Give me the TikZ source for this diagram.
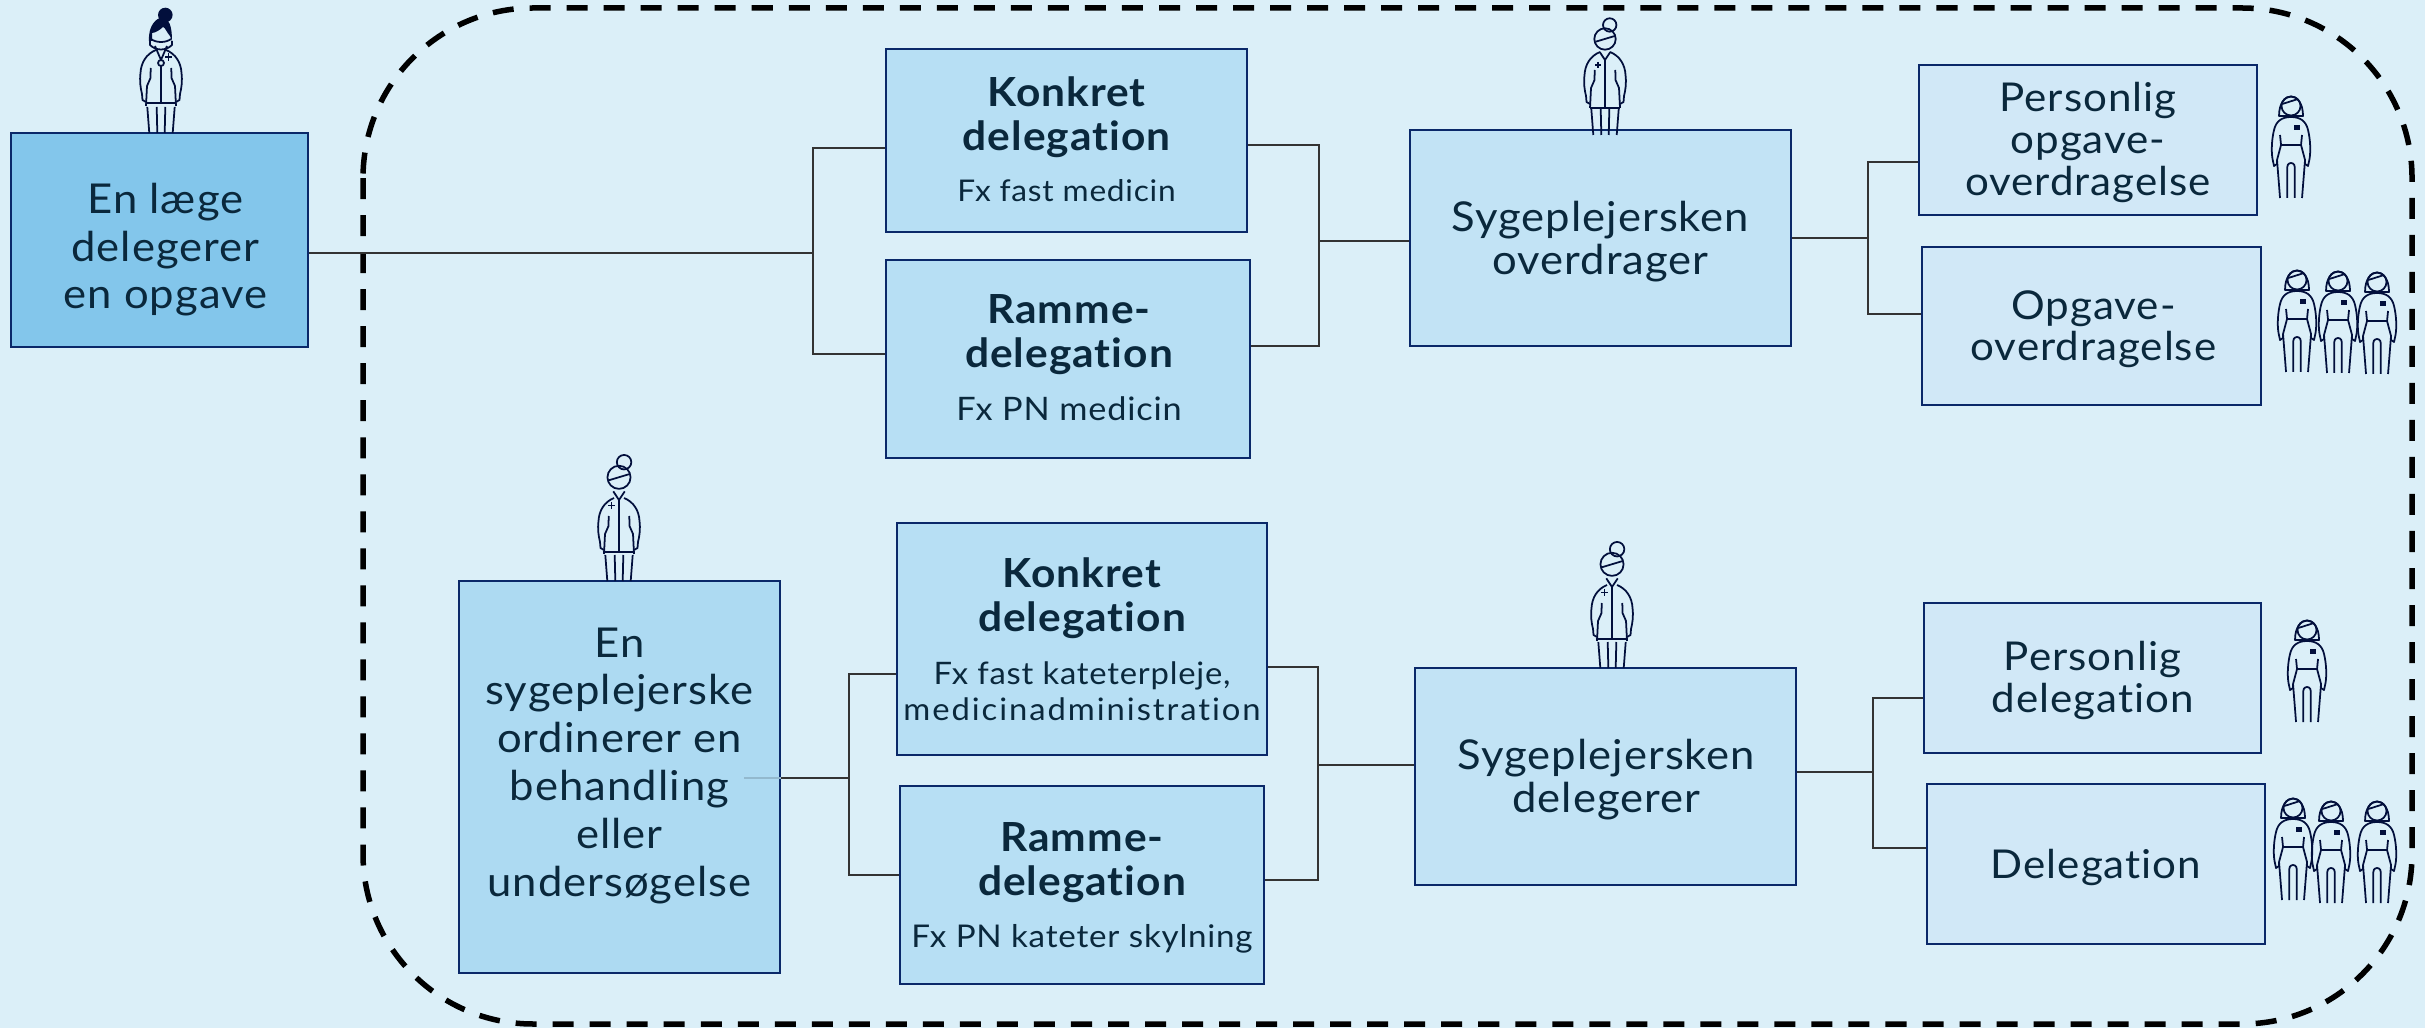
\documentclass[tikz,border=0pt]{standalone}
\usepackage{fontspec}
\setmainfont[Ligatures=NoCommon,FakeStretch=1.06,LetterSpace=2.5]{Lato}
\usepackage{tikz}
\usetikzlibrary{positioning}
\definecolor{bund}{RGB}{219,239,248}
\definecolor{kant}{RGB}{10,40,105}
\definecolor{skrift}{RGB}{10,40,60}
\definecolor{ikonfarve}{RGB}{2,15,60}
\definecolor{laegeblaa}{RGB}{131,198,235}
\definecolor{ordblaa}{RGB}{173,218,242}
\definecolor{deleblaa}{RGB}{183,223,244}
\definecolor{sygblaa}{RGB}{194,227,245}
\definecolor{persblaa}{RGB}{209,232,247}
\tikzstyle{boks}=[draw=kant,line width=0.7pt,inner sep=0pt,text=skrift]
\tikzstyle{stor}=[font=\fontsize{11.7}{13.6}\selectfont]
\tikzstyle{syg}=[font=\fontsize{11.7}{12.3}\selectfont]
\tikzstyle{mellem}=[font=\fontsize{11.3}{11.9}\selectfont]
\tikzstyle{linje}=[draw=black!80,line width=0.35pt]
\tikzstyle{svag}=[draw=ordblaa!85!black,line width=0.35pt]
\tikzstyle{ikon}=[draw=ikonfarve,line width=0.5pt,line join=round]
\newcommand{\lille}[1]{\fontsize{#1}{10.2}\selectfont\mdseries}
\newcommand{\fed}{\fontsize{11.4}{12.5}\selectfont\bfseries}
\newlength{\enhed}
\setlength{\enhed}{0.01cm}
% text in a box, moved #1 right and #2 up
\newcommand{\flyt}[3]{\hspace*{#1\enhed}\hspace*{#1\enhed}\makebox[0pt]{\raisebox{\dimexpr #2\enhed-0.25em\relax}[0pt][0pt]{\parbox[c]{4cm}{\centering #3\par}}}}
\tikzset{
  kittelben/.pic={
    \draw[ikon] (-5,-83) .. controls (-15,-79) and (-20,-70) .. (-20.5,-60)
      .. controls (-21.5,-52) and (-20.5,-45) .. (-19,-39) -- (-18.5,-33) -- (-15,-31);
    \draw[ikon] (-10.3,-65) -- (-10.5,-55) -- (-14,-47) -- (-15,-27);
    \draw[ikon] (-13.7,-26) -- (-11.7,0);
    \draw[ikon] (-4.3,-26) -- (-3.7,0);
  },
  sygeplejerske/.pic={
    \pic {kittelben};
    \pic[xscale=-1] {kittelben};
    \draw[ikon] (4.7,-110) circle (6.7);
    \draw[ikon] (0,-96) circle (10.7);
    \draw[ikon] (-9.3,-93.3) -- (9.7,-99);
    \draw[ikon] (-15,-27) -- (15,-27);
    \draw[ikon] (0,-75) -- (0,-27);
    \draw[ikon] (-5.3,-83) -- (0,-75) -- (5.3,-83);
    \draw[ikon] (-10,-70) -- (-4,-70) (-7,-73) -- (-7,-67);
  },
  laege/.pic={
    \pic {kittelben};
    \pic[xscale=-1] {kittelben};
    \fill[ikonfarve] (4.3,-118) circle (7.3);
    \fill[ikonfarve] (-12,-92) .. controls (-13,-108) and (-4,-115) .. (0,-115)
      .. controls (8,-115) and (11,-108) .. (11,-92) -- (9,-97)
      .. controls (6,-100) and (4,-106) .. (2,-106)
      .. controls (-1,-103) and (-6,-100) .. (-9,-100) -- (-9,-92) -- cycle;
    \draw[ikon] (-11,-92) -- (-11,-88) .. controls (-5,-82) and (5,-82) .. (11,-88) -- (11,-92);
    \draw[ikon] (-10,-94) .. controls (-5,-90) and (5,-90) .. (10,-94);
    \draw[ikon] (-15,-30) -- (15,-30);
    \draw[ikon] (0,-67) -- (0,-30);
    \draw[ikon] (-6,-87) -- (0,-73) -- (6,-87);
    \draw[ikon] (0,-70) circle (3);
    \draw[ikon] (4,-76) -- (11,-76) (7.5,-80) -- (7.5,-72);
  },
  personben/.pic={
    \draw[ikon] (0,-81) .. controls (-9,-81) and (-15,-77) .. (-17,-68)
      .. controls (-19,-60) and (-20,-48) .. (-18.5,-39) -- (-17,-32) -- (-14,-34) -- (-14,-38);
    \draw[ikon] (-11,-63) -- (-10,-53) -- (-14,-38) -- (-11,0);
    \draw[ikon] (-3.7,0) -- (-3.7,-31) .. controls (-3.7,-35) and (0,-35) .. (0,-35);
  },
  person/.pic={
    \pic {personben};
    \pic[xscale=-1] {personben};
    \draw[ikon] (0,-92) circle (9.5);
    \draw[ikon] (-12,-82) .. controls (-12,-108) and (12,-108) .. (12,-82) -- cycle;
    \draw[ikon] (-8.7,-94) -- (7,-99);
    \draw[ikon] (-10,-53) -- (10,-53);
    \fill[ikonfarve] (2.7,-73) rectangle (9,-68);
  },
}
\begin{document}
\begin{tikzpicture}[x=0.01cm,y=-0.01cm]
\useasboundingbox (0,0) rectangle (2425,1028);
\fill[bund] (0,0) rectangle (2425,1028);

\draw[line width=0.055cm,dash pattern=on 0.21cm off 0.16cm,rounded corners=1.7cm]
  (363,8) rectangle (2412,1024);

% leftmost boxes
\node[boks,stor,fill=laegeblaa,minimum width=2.97cm,minimum height=2.14cm] at (159.5,240) (laegeboks)
  {\flyt{6}{-10}{En læge\\delegerer\\en opgave}};
\node[boks,stor,fill=ordblaa,minimum width=3.21cm,minimum height=3.92cm] at (619.5,777) (ordiner)
  {\flyt{0}{11}{En\\sygeplejerske\\ordinerer en\\behandling\\eller\\undersøgelse}};

% delegation boxes
\node[boks,fill=deleblaa,minimum width=3.61cm,minimum height=1.83cm] at (1066.5,140.5) (konkretA)
  {\flyt{0}{1}{\fed Konkret\\delegation\par\vspace{1.5mm}\lille{8.5} Fx fast medicin}};
\node[boks,fill=deleblaa,minimum width=3.64cm,minimum height=1.98cm] at (1068,359) (rammeA)
  {\flyt{1}{1}{\fed Ramme-\\delegation\par\vspace{1.7mm}\lille{9.2} Fx PN medicin}};
\node[boks,fill=deleblaa,minimum width=3.70cm,minimum height=2.32cm] at (1082,639) (konkretB)
  {\flyt{0}{0}{\fed Konkret\\delegation\par\vspace{1.7mm}\lille{8.8} Fx fast kateterpleje,\\\addfontfeature{LetterSpace=6.3}medicinadministration}};
\node[boks,fill=deleblaa,minimum width=3.64cm,minimum height=1.98cm] at (1082,885) (rammeB)
  {\flyt{0}{-3}{\fed Ramme-\\delegation\par\vspace{1.6mm}\lille{8.9} Fx PN kateter skylning}};

% middle boxes
\node[boks,syg,fill=sygblaa,minimum width=3.81cm,minimum height=2.16cm] at (1600.5,238) (overdrager)
  {\flyt{0}{-4}{Sygeplejersken\\overdrager}};
\node[boks,syg,fill=sygblaa,minimum width=3.81cm,minimum height=2.17cm] at (1605.5,776.5) (delegerer)
  {\flyt{1}{-3}{Sygeplejersken\\delegerer}};

% rightmost boxes
\node[boks,mellem,fill=persblaa,minimum width=3.38cm,minimum height=1.50cm] at (2088,140) (persopgave)
  {\flyt{0}{-2}{Personlig\\opgave-\\overdragelse}};
\node[boks,mellem,fill=persblaa,minimum width=3.39cm,minimum height=1.58cm] at (2091.5,326) (opgave)
  {\flyt{2}{-3}{Opgave-\\overdragelse}};
\node[boks,mellem,fill=persblaa,minimum width=3.37cm,minimum height=1.50cm] at (2092.5,678) (persdele)
  {\flyt{0}{-2}{Personlig\\delegation}};
\node[boks,mellem,fill=persblaa,minimum width=3.38cm,minimum height=1.60cm] at (2096,864) (delegation)
  {\flyt{0}{-3}{Delegation}};

% connector junctions
\coordinate (jA) at (813,253);
\coordinate (jB) at (1319,241);
\coordinate (jC) at (1868,238);
\coordinate (jD) at (849,778);
\coordinate (jE) at (1318,765);
\coordinate (jF) at (1873,772);
\coordinate (jG) at (744,778);

\draw[linje] (laegeboks.east |- jA) -- (jA);
\draw[linje] (konkretA.west |- 0,148) -| (jA);
\draw[linje] (rammeA.west |- 0,354) -| (jA);
\draw[linje] (konkretA.east |- 0,145) -| (jB);
\draw[linje] (rammeA.east |- 0,346) -| (jB);
\draw[linje] (jB) -- (overdrager.west |- jB);
\draw[linje] (overdrager.east |- jC) -- (jC);
\draw[linje] (persopgave.west |- 0,162) -| (jC);
\draw[linje] (opgave.west |- 0,314) -| (jC);
\draw[svag] (jG) -- (ordiner.east |- jD);
\draw[linje] (ordiner.east |- jD) -- (jD);
\draw[linje] (konkretB.west |- 0,674) -| (jD);
\draw[linje] (rammeB.west |- 0,875) -| (jD);
\draw[linje] (konkretB.east |- 0,667) -| (jE);
\draw[linje] (rammeB.east |- 0,880) -| (jE);
\draw[linje] (jE) -- (delegerer.west |- jE);
\draw[linje] (delegerer.east |- jF) -- (jF);
\draw[linje] (persdele.west |- 0,698) -| (jF);
\draw[linje] (delegation.west |- 0,848) -| (jF);

% figures
\pic at (161,133) {laege};
\pic at (1605,135) {sygeplejerske};
\pic[scale=1.08] at (619,581) {sygeplejerske};
\pic[scale=1.08] at (1612,668) {sygeplejerske};
\pic at (2291,198) {person};
\foreach \x/\y in {2297/372,2338/373,2377/374,2293/900,2331/903,2377/903,2307/722}
{
  \pic at (\x,\y) {person};
}
\end{tikzpicture}
\end{document}
